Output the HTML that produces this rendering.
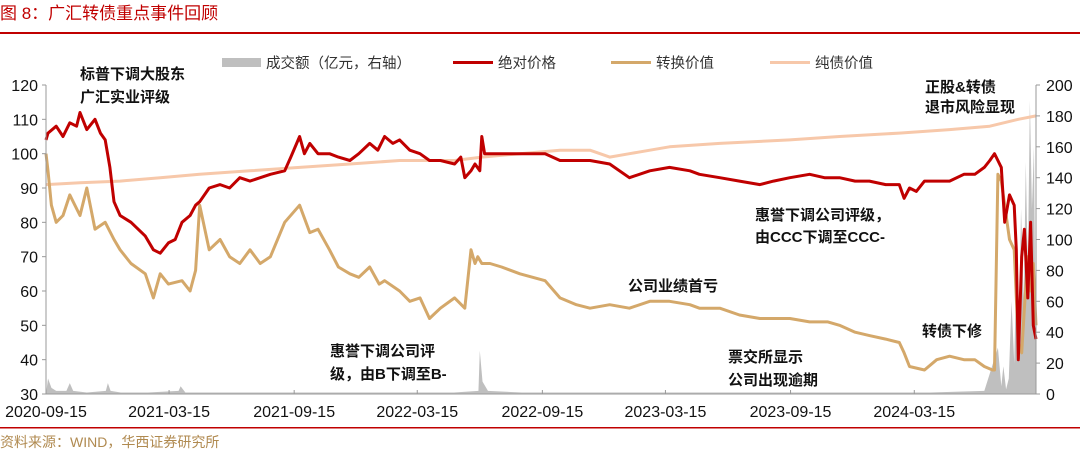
<!DOCTYPE html>
<html><head><meta charset="utf-8"><style>
body{margin:0;background:#fff;width:1080px;height:457px;overflow:hidden;font-family:"Liberation Sans","Noto Sans CJK SC",sans-serif}
svg text{font-family:"Liberation Sans","Noto Sans CJK SC",sans-serif}
</style></head><body>
<svg id="c" width="1080" height="457">
<text x="0" y="19" font-size="17" fill="#c00000">图 8：广汇转债重点事件回顾</text>
<rect x="0" y="32" width="1080" height="2" fill="#c00000"/>
<rect x="0" y="427" width="1080" height="1.5" fill="#c00000"/>
<text x="0" y="447" font-size="14" fill="#b08a50">资料来源：WIND，华西证券研究所</text>
<g id="plot"></g>
<g font-size="14.5" fill="#333">
<rect x="222" y="58" width="39" height="9" fill="#bfbfbf"/>
<text x="266" y="68">成交额（亿元，右轴）</text>
<rect x="453" y="61" width="40" height="3" fill="#c00000"/>
<text x="498" y="68">绝对价格</text>
<rect x="611" y="61" width="40" height="3" fill="#d4a86a"/>
<text x="656" y="68">转换价值</text>
<rect x="770" y="61" width="40" height="3" fill="#f7c8aa"/>
<text x="815" y="68">纯债价值</text>
</g>
<g font-size="15" font-weight="bold" fill="#111">
<text x="80" y="79">标普下调大股东</text>
<text x="80" y="102">广汇实业评级</text>
<text x="925" y="92">正股&amp;转债</text>
<text x="925" y="112">退市风险显现</text>
<text x="755" y="220">惠誉下调公司评级，</text>
<text x="755" y="242">由CCC下调至CCC-</text>
<text x="628" y="291">公司业绩首亏</text>
<text x="330" y="356">惠誉下调公司评</text>
<text x="330" y="379">级，由B下调至B-</text>
<text x="728" y="362">票交所显示</text>
<text x="728" y="385">公司出现逾期</text>
<text x="922" y="336">转债下修</text>
</g>
</svg>
<script>
const leftTicks=[30,40,50,60,70,80,90,100,110,120];
const rightTicks=[0,20,40,60,80,100,120,140,160,180,200];
const xTickLabels=["2020-09-15","2021-03-15","2021-09-15","2022-03-15","2022-09-15","2023-03-15","2023-09-15","2024-03-15"];
const xTickDays=[0,181,365,546,730,911,1095,1277];
const priceDays=[0,3,15,25,35,45,50,60,72,80,87,94,100,109,125,146,158,168,180,190,200,212,220,226,240,256,270,285,300,315,330,351,360,373,380,388,400,417,430,447,460,476,488,498,510,520,535,550,564,580,601,610,616,625,631,638,641,645,653,670,697,715,734,756,780,800,829,858,888,917,947,961,991,1020,1050,1070,1094,1123,1145,1167,1190,1211,1235,1255,1262,1270,1280,1292,1310,1329,1350,1366,1380,1388,1395,1400,1405,1410,1417,1424,1427,1430,1435,1439,1444,1448,1452,1456];
const priceVals=[104,106,108,105,109,108,112,107,110,106,104,96,86,82,80,76,72,71,74,75,80,82,85,86,90,91,90,93,92,93,94,95,99,105,100,103,100,100,99,98,100,103,101,105,103,104,101,100,98,98,97,99,93,95,97,95,105,100,100,100,100,100,100,98,98,98,97,93,95,96,95,94,93,92,91,92,93,94,93,93,92,92,91,91,87,90,89,92,92,92,94,94,96,98,100,98,96,80,88,85,72,40,70,78,58,80,50,46];
const convDays=[0,3,8,15,25,35,50,60,72,87,100,109,125,146,158,168,180,200,212,220,226,240,256,270,285,300,315,330,351,373,388,400,417,430,447,460,476,490,498,520,535,550,564,580,601,616,625,631,635,641,653,670,697,734,756,780,800,829,858,888,917,947,961,991,1020,1050,1070,1094,1123,1150,1167,1190,1211,1235,1255,1262,1270,1292,1310,1329,1350,1366,1380,1392,1395,1400,1405,1410,1417,1424,1430,1435,1439,1444,1448,1452,1456];
const convVals=[100,95,85,80,82,88,82,90,78,80,75,72,68,65,58,65,62,63,60,66,85,72,75,70,68,72,68,70,80,85,77,78,72,67,65,64,67,62,63,60,57,58,52,55,58,55,72,68,70,68,68,67,65,63,58,56,55,56,55,57,57,56,55,55,53,52,52,52,51,51,50,48,47,46,45,42,38,37,40,41,40,40,38,37,37,94,92,85,75,72,45,42,55,70,60,68,50];
const bondDays=[0,50,109,168,226,300,373,447,520,601,641,697,756,800,829,858,917,991,1094,1167,1255,1329,1388,1430,1456];
const bondVals=[91,91.5,92,93,94,95,96,97,98,98,99,100,101,101,99,100,102,103,104,105,106,107,108,110,111];
const volDays=[0,3,8,15,30,35,40,60,88,91,95,110,150,195,198,205,250,300,360,400,450,520,600,636,638,642,650,700,800,900,1000,1100,1200,1300,1380,1400,1405,1408,1412,1416,1420,1424,1428,1431,1434,1438,1441,1444,1447,1450,1453,1456];
const volVals=[0,10,4,2,2,7,2,1,2,7,2,1,1,2,5,1,1,1,1,1,1,1,1,2,28,8,2,1,1,1,1,1,1,1,2,30,5,18,3,10,60,20,100,40,120,60,150,80,190,120,160,0];
</script>
<script>
const svg=document.getElementById('c'),plot=document.getElementById('plot'),NS='http://www.w3.org/2000/svg';
const X0=46,X1=1036,YB=394,YT=85,DAYMAX=1456;
const sx=d=>X0+d*(X1-X0)/DAYMAX;
const syL=v=>YB-(v-30)*(YB-YT)/90;
const syR=v=>YB-v*(YB-YT)/200;
function mk(t,a){const e=document.createElementNS(NS,t);for(const k in a)e.setAttribute(k,a[k]);plot.appendChild(e);return e;}
let pts=[[sx(0),syR(0)]];
volDays.forEach((d,i)=>pts.push([sx(d),syR(volVals[i])]));
pts.push([sx(DAYMAX),syR(0)]);
const va=mk('polygon',{points:pts.map(p=>p.join(',')).join(' '),fill:'#bfbfbf'});


function line(days,vals,color,w,name){const l=mk('polyline',{points:days.map((d,i)=>sx(d).toFixed(1)+','+syL(vals[i]).toFixed(1)).join(' '),fill:'none',stroke:color,'stroke-width':w,'stroke-linejoin':'round'});

}
line(bondDays,bondVals,'#f7c8aa',3,'bond-value-line');
line(convDays,convVals,'#d4a86a',3,'conversion-value-line');
line(priceDays,priceVals,'#c00000',3,'absolute-price-line');
mk('line',{x1:X0,y1:YT,x2:X0,y2:YB,stroke:'#999'});
mk('line',{x1:X1,y1:YT,x2:X1,y2:YB,stroke:'#999'});
mk('line',{x1:X0,y1:YB,x2:X1,y2:YB,stroke:'#999'});
leftTicks.forEach(v=>{mk('line',{x1:X0-4,x2:X0,y1:syL(v),y2:syL(v),stroke:'#999'});
const t=mk('text',{x:X0-8,y:syL(v)+6,'text-anchor':'end','font-size':'16',fill:'#111'});t.textContent=v;

});
rightTicks.forEach(v=>{mk('line',{x1:X1,x2:X1+4,y1:syR(v),y2:syR(v),stroke:'#999'});
const t=mk('text',{x:X1+10,y:syR(v)+6,'font-size':'16',fill:'#111'});t.textContent=v;

});
xTickLabels.forEach((s,i)=>{const x=sx(xTickDays[i]);mk('line',{x1:x,x2:x,y1:YB,y2:YB-4,stroke:'#999'});
const t=mk('text',{x:x,y:417,'text-anchor':'middle','font-size':'16',fill:'#111'});t.textContent=s;

});
</script>
</body></html>
